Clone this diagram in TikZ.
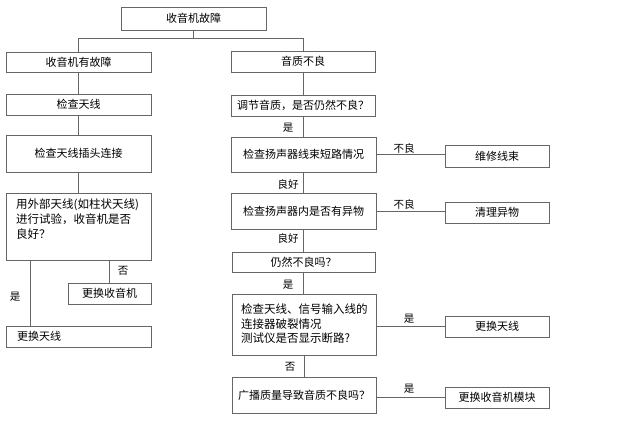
\documentclass[tikz,border=0pt]{standalone}
\usepackage{fontspec}
\setmainfont{Noto Sans CJK SC}
\begin{document}
\begin{tikzpicture}[x=1pt,y=-1pt,
    box/.style={draw=black!60, line width=0.8pt, inner sep=0pt, font=\fontsize{11}{15}\selectfont},
    lbl/.style={inner sep=0pt, font=\fontsize{10.5}{12}\selectfont},
    line/.style={draw=black!60, line width=0.8pt}]
    \useasboundingbox (0,0) rectangle (626,421);

    % top
    \node[box, minimum width=145pt, minimum height=23pt] (fault) at (193.5,18.5) {收音机故障};

    % left column
    \node[box, minimum width=145pt, minimum height=20pt] (radio) at (78.5,62) {收音机有故障};
    \node[box, minimum width=145pt, minimum height=21pt] (ant) at (78.5,104.5) {检查天线};
    \node[box, minimum width=145pt, minimum height=37pt] (plug) at (78.5,153.5) {检查天线插头连接};
    \node[box, minimum width=145pt, minimum height=67pt] (ext) at (78.5,226.5) {};
    \node[lbl, anchor=north west, align=left, font=\fontsize{11.5}{15}\selectfont] (exttext) at (16,199) {用外部天线(如柱状天线)\\进行试验，收音机是否\\良好？};
    \node[box, minimum width=83pt, minimum height=21pt] (newradio) at (109.5,293.5) {更换收音机};
    \node[box, minimum width=145pt, minimum height=21pt, align=left, text width=123pt] (newant) at (78.5,336.5) {更换天线};
    \coordinate (yesleft) at (30,0);

    % right column
    \node[box, minimum width=144pt, minimum height=21pt] (sound) at (303,61.5) {音质不良};
    \node[box, minimum width=144pt, minimum height=21pt] (adjust) at (303,105.5) {调节音质，是否仍然不良？};
    \node[box, minimum width=145pt, minimum height=35pt] (short) at (303.5,154.5) {检查扬声器线束短路情况};
    \node[box, minimum width=145pt, minimum height=36pt] (foreign) at (303.5,211) {检查扬声器内是否有异物};
    \node[box, minimum width=143pt, minimum height=20pt] (still) at (303.5,262) {仍然不良吗？};
    \node[box, minimum width=144pt, minimum height=61pt] (conn) at (304,324.5) {};
    \node[lbl, anchor=north west, align=left, font=\fontsize{11.5}{14.5}\selectfont] (conntext) at (241,304) {检查天线、信号输入线的\\连接器破裂情况\\测试仪是否显示断路?};
    \node[box, minimum width=144pt, minimum height=36pt] (broad) at (304,395) {广播质量导致音质不良吗？};

    % side boxes
    \node[box, minimum width=104pt, minimum height=22pt] (harness) at (497,156) {维修线束};
    \node[box, minimum width=104pt, minimum height=21pt] (clean) at (497,212.5) {清理异物};
    \node[box, minimum width=104pt, minimum height=21pt] (newant2) at (497,326.5) {更换天线};
    \node[box, minimum width=104pt, minimum height=21pt] (module) at (497,397.5) {更换收音机模块};

    % connectors
    \draw[line] (fault.south) -- ++(0,8) coordinate (split);
    \draw[line] (split) -| (radio.north);
    \draw[line] (split) -| (sound.north);
    \draw[line] (radio) -- (ant);
    \draw[line] (ant) -- (plug);
    \draw[line] (plug) -- (ext);
    \draw[line] (ext.south -| yesleft) -- (newant.north -| yesleft);
    \draw[line] (ext.south -| newradio.north) -- (newradio.north);
    \draw[line] (sound) -- (adjust);
    \draw[line] (adjust.south) -- (adjust.south |- short.north);
    \draw[line] (short.south) -- (short.south |- foreign.north);
    \draw[line] (foreign.south) -- (foreign.south |- still.north);
    \draw[line] (still.south) -- (still.south |- conn.north);
    \draw[line] (conn.south) -- (conn.south |- broad.north);
    \draw[line] (short.east) -- (short.east -| harness.west);
    \draw[line] (foreign.east) -- (foreign.east -| clean.west);
    \draw[line] (conn.east |- newant2.west) -- (newant2.west);
    \draw[line] (broad.east |- module.west) -- (module.west);

    % labels
    \node[lbl] (noL) at (123,271) {否};
    \node[lbl] (yesL) at (15,297) {是};
    \node[lbl] (yes1) at (288,128) {是};
    \node[lbl] (good1) at (288,184) {良好};
    \node[lbl] (good2) at (288,238) {良好};
    \node[lbl] (yes2) at (288,285) {是};
    \node[lbl] (no2) at (290,367) {否};
    \node[lbl] (bad1) at (404,148) {不良};
    \node[lbl] (bad2) at (404,204) {不良};
    \node[lbl] (yes3) at (409,319) {是};
    \node[lbl] (yes4) at (409,389) {是};
\end{tikzpicture}
\end{document}
